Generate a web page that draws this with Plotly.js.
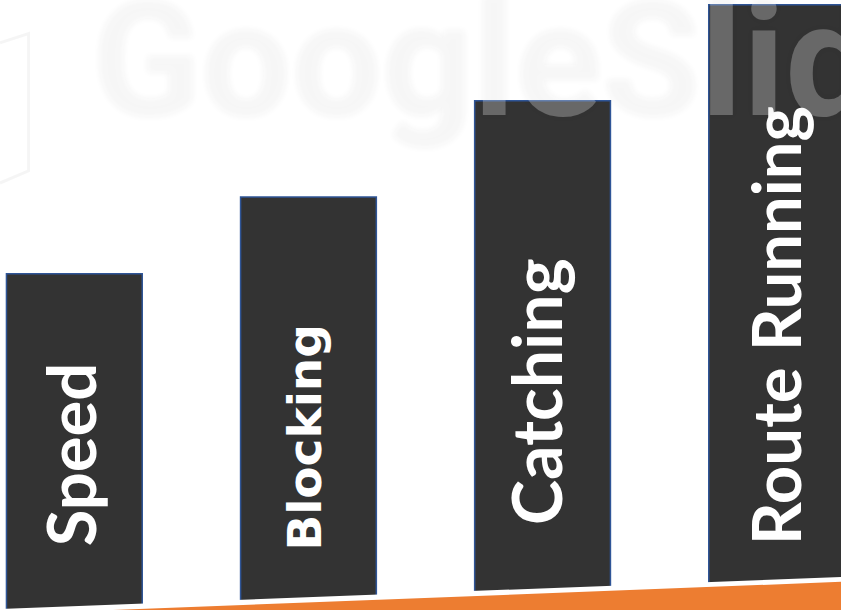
<!DOCTYPE html>
<html>
<head>
<meta charset="utf-8">
<script src="https://cdn.plot.ly/plotly-3.0.1.min.js"></script>
<style>html,body{margin:0;padding:0;background:#fff;}#chart{width:841px;height:610px;}</style>
</head>
<body>
<div id="chart"></div>
<script>
// Data
var categories = ["Speed", "Blocking", "Catching", "Route Running"];
var values = [35, 43, 53, 63];
var labelText = ["Speed", "Blocking", "Catching", "Route Running"];
var watermark = "GoogleSlides";

// Label styling (per bar)
var labelFamily = ["Lato", "DejaVu Sans", "Lato", "Lato"];
var labelSize = [67, 47, 68, 67];
var labelBottom = [0.1016, 0.094, 0.136, 0.1033];
var labelShift = [-4, -4, -7, -1];

var trace = {
  type: "bar",
  x: categories,
  y: values,
  width: 0.58,
  marker: { color: "#333333", line: { color: "#2F5597", width: 1.5 } },
  hoverinfo: "skip"
};

var annotations = categories.map(function (c, i) {
  return {
    x: c, xref: "x", y: labelBottom[i], yref: "paper",
    xanchor: "center", yanchor: "bottom", xshift: labelShift[i],
    text: labelText[i], showarrow: false, textangle: -90,
    font: { family: labelFamily[i], size: labelSize[i], color: "#ffffff", weight: 700 }
  };
});

annotations.push({
  x: 90 / 841, xref: "paper", y: 1.058, yref: "paper",
  xanchor: "left", yanchor: "top",
  text: watermark, showarrow: false,
  font: { family: "Roboto", size: 160, weight: 700, color: "rgba(255,255,255,0.27)",
          shadow: "0px 0px 6px rgba(0,0,0,0.18)" }
});

var layout = {
  width: 841, height: 610,
  margin: { l: 0, r: 0, t: 0, b: 0, pad: 0 },
  paper_bgcolor: "#ffffff", plot_bgcolor: "#ffffff",
  showlegend: false,
  xaxis: { type: "category", range: [-0.3176, 3.2749], visible: false, fixedrange: true },
  yaxis: { range: [0, 63.5], visible: false, fixedrange: true },
  shapes: [
    { type: "path", xref: "paper", yref: "paper", layer: "above",
      path: "M -0.01,-0.01 L -0.01,0.001 L 1.01,0.0547 L 1.01,-0.01 Z",
      fillcolor: "#ffffff", line: { width: 0 } },
    { type: "path", xref: "paper", yref: "paper", layer: "above",
      path: "M 0.1344,-0.01 L 0.1344,0 L 1.01,0.0467 L 1.01,-0.01 Z",
      fillcolor: "#ED7D31", line: { width: 0 } },
    { type: "path", xref: "paper", yref: "paper", layer: "below",
      path: "M 0,0.93 L 0.034,0.945 L 0.034,0.72 L 0,0.70",
      line: { color: "rgba(0,0,0,0.04)", width: 3 } }
  ],
  annotations: annotations
};

Plotly.newPlot("chart", [trace], layout, { staticPlot: true, displayModeBar: false });
</script>
</body>
</html>
